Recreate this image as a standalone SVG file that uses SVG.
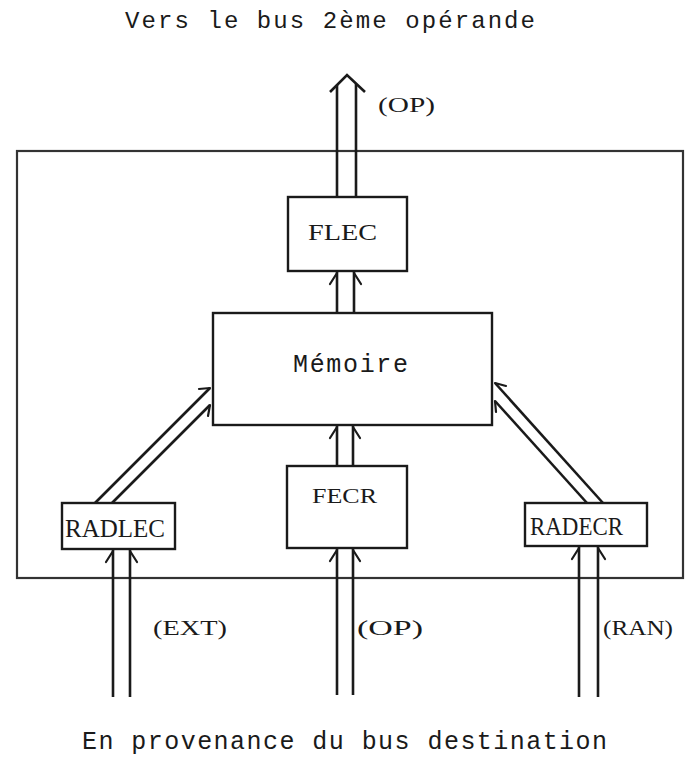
<svg xmlns="http://www.w3.org/2000/svg" width="688" height="757" viewBox="0 0 688 757">
<style>
.box{fill:none;stroke:#1a1a1a;stroke-width:2.4}
.frame{fill:none;stroke:#333333;stroke-width:2.2}
.ln{fill:none;stroke:#1a1a1a;stroke-width:2.6;stroke-linecap:butt}
.tk{fill:none;stroke:#1a1a1a;stroke-width:2.2;stroke-linecap:round}
.mono{font-family:"Liberation Mono","DejaVu Sans Mono",monospace;fill:#1a1a1a}
.serif{font-family:"Liberation Serif","DejaVu Serif",serif;fill:#1a1a1a}
</style>
<rect width="688" height="757" fill="#ffffff"/>
<text class="mono" x="125" y="28" font-size="24" textLength="410" lengthAdjust="spacing">Vers le bus 2ème opérande</text>
<text class="mono" x="82" y="749" font-size="25" textLength="525" lengthAdjust="spacing">En provenance du bus destination</text>
<g id="frame"><rect class="frame" x="17" y="151" width="666" height="427"/></g>
<g id="FLEC"><rect class="box" x="288" y="197" width="119" height="74"/><text class="serif" x="308" y="240" font-size="24" textLength="69" lengthAdjust="spacingAndGlyphs">FLEC</text></g>
<g id="Memoire"><rect class="box" x="213" y="313" width="279" height="112"/><text class="mono" x="293" y="372" font-size="25" textLength="115" lengthAdjust="spacing">Mémoire</text></g>
<g id="FECR"><rect class="box" x="287" y="466" width="120" height="82"/><text class="serif" x="312" y="503" font-size="21" textLength="65" lengthAdjust="spacingAndGlyphs">FECR</text></g>
<g id="RADLEC"><rect class="box" x="62" y="503" width="113" height="46"/><text class="serif" x="65" y="537" font-size="25" textLength="100" lengthAdjust="spacingAndGlyphs">RADLEC</text></g>
<g id="RADECR"><rect class="box" x="525" y="503" width="122" height="43"/><text class="serif" x="530" y="535" font-size="25" textLength="93" lengthAdjust="spacingAndGlyphs">RADECR</text></g>
<g id="labels">
<text class="serif" x="378" y="112" font-size="22" textLength="57" lengthAdjust="spacingAndGlyphs">(OP)</text>
<text class="serif" x="153" y="635" font-size="22" textLength="74" lengthAdjust="spacingAndGlyphs">(EXT)</text>
<text class="serif" x="357" y="635" font-size="22" textLength="66" lengthAdjust="spacingAndGlyphs">(OP)</text>
<text class="serif" x="603" y="635" font-size="22" textLength="70" lengthAdjust="spacingAndGlyphs">(RAN)</text>
</g>
<g id="connectors">
<line class="ln" x1="337" y1="197" x2="337" y2="85"/>
<line class="ln" x1="356" y1="197" x2="356" y2="84"/>
<polyline class="ln" points="330,92 347,75 365,92"/>
<line class="ln" x1="337" y1="313" x2="337" y2="272"/>
<line class="ln" x1="354" y1="313" x2="354" y2="272"/>
<line class="tk" x1="337" y1="273" x2="330" y2="284"/>
<line class="tk" x1="354" y1="273" x2="361" y2="284"/>
<line class="ln" x1="337" y1="466" x2="337" y2="426"/>
<line class="ln" x1="353" y1="466" x2="353" y2="426"/>
<line class="tk" x1="337" y1="427" x2="330" y2="438"/>
<line class="tk" x1="353" y1="427" x2="360" y2="438"/>
<line class="ln" x1="337" y1="695" x2="337" y2="549"/>
<line class="ln" x1="353" y1="695" x2="353" y2="549"/>
<line class="tk" x1="337" y1="550" x2="330" y2="561"/>
<line class="tk" x1="353" y1="550" x2="360" y2="561"/>
<line class="ln" x1="113" y1="697" x2="113" y2="550"/>
<line class="ln" x1="130" y1="697" x2="130" y2="550"/>
<line class="tk" x1="113" y1="551" x2="106" y2="562"/>
<line class="tk" x1="130" y1="551" x2="137" y2="562"/>
<line class="ln" x1="579" y1="697" x2="579" y2="547"/>
<line class="ln" x1="598" y1="697" x2="598" y2="547"/>
<line class="tk" x1="579" y1="548" x2="572" y2="559"/>
<line class="tk" x1="598" y1="548" x2="605" y2="559"/>
<line class="ln" x1="95" y1="503" x2="210" y2="388"/>
<line class="ln" x1="112" y1="503" x2="210" y2="405"/>
<line class="tk" x1="210" y1="388" x2="199" y2="389"/>
<line class="tk" x1="210" y1="405" x2="208" y2="416"/>
<line class="ln" x1="603" y1="503" x2="495" y2="383"/>
<line class="ln" x1="587" y1="503" x2="495" y2="401"/>
<line class="tk" x1="495" y1="383" x2="506" y2="386"/>
<line class="tk" x1="495" y1="401" x2="496" y2="412"/>
</g>
</svg>
